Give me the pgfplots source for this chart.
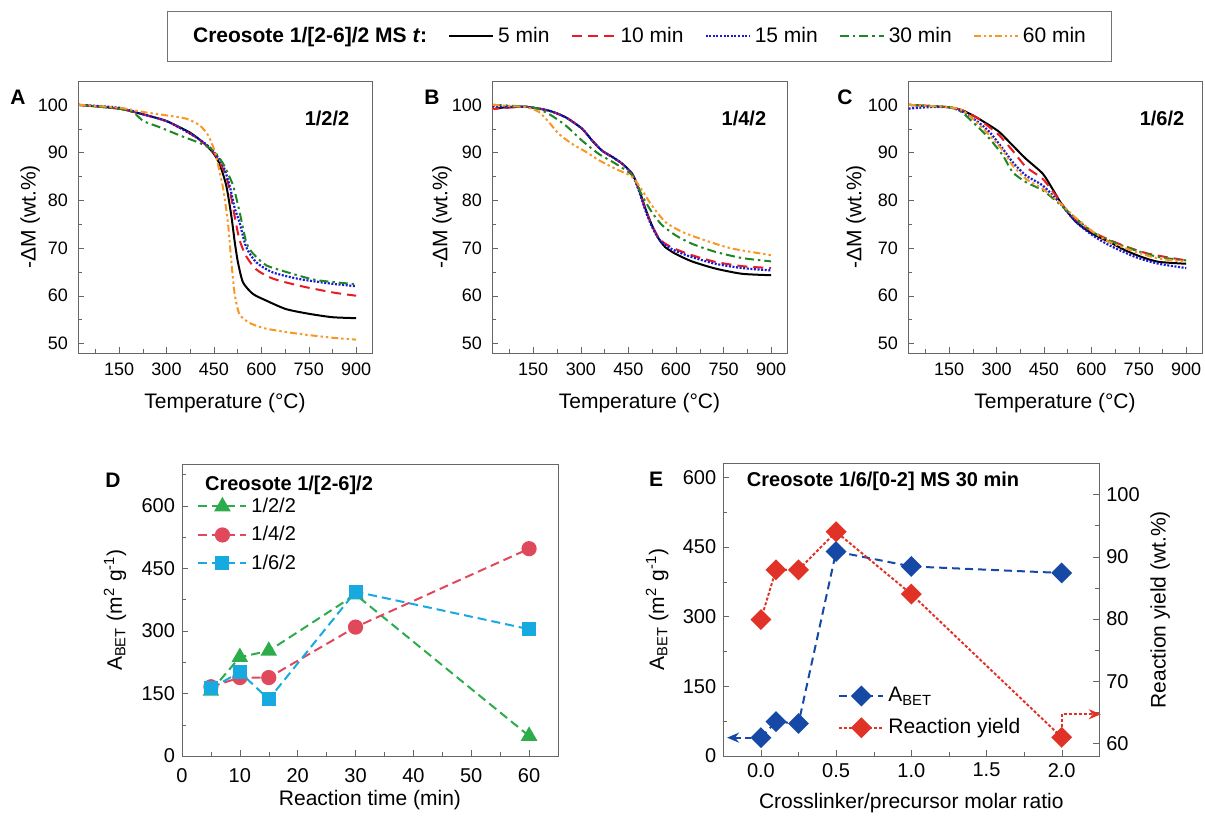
\documentclass[border=0pt]{standalone}
\usepackage{fontspec}
\setmainfont{Liberation Sans}
\setsansfont{Liberation Sans}
\usepackage{pgfplots}
\pgfplotsset{compat=1.18}
\usetikzlibrary{arrows.meta}

\definecolor{tred}{RGB}{230,28,32}
\definecolor{tblue}{RGB}{25,25,215}
\definecolor{tgreen}{RGB}{30,135,35}
\definecolor{torange}{RGB}{250,150,35}
\definecolor{dgreen}{RGB}{45,172,75}
\definecolor{dred}{RGB}{224,72,92}
\definecolor{dcyan}{RGB}{22,170,225}
\definecolor{eblue}{RGB}{22,72,165}
\definecolor{ered}{RGB}{225,50,40}

\newcommand{\tgafont}{\fontsize{9}{10}\selectfont}
\newcommand{\dfont}{\fontsize{10}{11}\selectfont}
\newcommand{\labfont}{\fontsize{10.5}{12}\selectfont}

\pgfplotsset{
  common/.style={
    scale only axis, anchor=north west,
    tick align=inside, tick pos=left,
    major tick length=3pt, minor tick length=2pt,
    axis line style={black!60}, tick style={black!60},
    /pgf/number format/assume math mode=true,
    label style={font=\labfont},
  },
  tga/.style={
    common, width=147pt, height=136pt,
    xmin=20, xmax=950, ymin=48, ymax=105,
    xtick={150,300,...,900}, minor xtick={75,225,...,825},
    ytick={50,60,...,100}, minor ytick={55,65,...,95},
    tick label style={font=\tgafont},
    x tick label style={yshift=-1.3pt},
    y tick label style={xshift=-1.5pt},
    xlabel={Temperature (°C)},
    ylabel={-ΔM (wt.\%)},
    xlabel style={at={(axis description cs:0.5,-0.184)}, anchor=center},
  },
  s5/.style={black, line width=1pt, smooth, tension=0.4, no marks},
  s10/.style={tred, line width=1pt, dash pattern=on 5pt off 3pt, smooth, tension=0.4, no marks},
  s15/.style={tblue, line width=1.1pt, dash pattern=on 1pt off 0.8pt, smooth, tension=0.4, no marks},
  s30/.style={tgreen, line width=1pt, dash pattern=on 4.5pt off 2pt on 1.2pt off 2pt, smooth, tension=0.4, no marks},
  s60/.style={torange, line width=1pt, dash pattern=on 3.5pt off 1.5pt on 1.2pt off 1.5pt on 1.2pt off 1.5pt, smooth, tension=0.4, no marks},
}

\begin{document}
\begin{tikzpicture}
\useasboundingbox (0,0) rectangle (602.5pt,-407.5pt);

% ---------------- Panel A ----------------
\begin{axis}[tga, at={(39pt,-40.5pt)},
  ylabel style={at={(axis description cs:-0.163,0.5)}, anchor=center}]
\addplot[s5] coordinates {(22,100) (150,99.2) (227,98.0) (300,96.6) (374,94.2) (416,92.1) (447,90.0) (468,87.6) (489,83.1) (505,76.8) (516,71.2) (526,67.0) (542,62.8) (573,60.4) (615,59.0) (678,57.2) (752,56.2) (825,55.5) (900,55.3)};
\addplot[s10] coordinates {(22,100) (150,99.2) (227,98.0) (300,96.6) (374,94.0) (416,92.1) (447,90.2) (468,88.0) (489,85.0) (505,80.5) (516,76.5) (531,71.7) (552,68.3) (584,65.5) (636,63.6) (720,62.1) (825,60.7) (900,60.0)};
\addplot[s15] coordinates {(22,100) (150,99.4) (227,98.0) (300,96.6) (374,94.0) (416,92.2) (447,90.4) (479,87.3) (500,83.0) (516,78.3) (531,75.4) (552,70.2) (584,67.0) (636,64.9) (720,63.5) (825,62.5) (900,62.0)};
\addplot[s30] coordinates {(22,100) (150,99.2) (195,98.4) (227,96.6) (279,95.3) (342,93.6) (405,92.0) (447,90.5) (479,87.7) (510,83.2) (531,77.6) (552,71.3) (573,68.9) (615,66.4) (678,65.0) (773,63.3) (900,62.4)};
\addplot[s60] coordinates {(22,100) (150,99.4) (227,98.5) (300,97.8) (363,97.1) (405,95.7) (432,93.6) (453,90.2) (468,86.0) (481,81.8) (495,74.9) (505,67.2) (516,60.2) (531,56.1) (563,54.3) (615,53.1) (720,52.0) (825,51.2) (900,50.8)};
\node[font=\bfseries\fontsize{10}{12}\selectfont] at (rel axis cs:0.847,0.864) {1/2/2};
\end{axis}

% ---------------- Panel B ----------------
\begin{axis}[tga, at={(246pt,-40.5pt)}, width=147.5pt,
  ylabel style={at={(axis description cs:-0.17,0.5)}, anchor=center},
  legend image code/.code={\draw[#1] (0pt,0pt) -- (22pt,0pt);},
  legend style={at={(axis description cs:0.5,1.165)}, anchor=center,
    legend columns=6, draw=black!55, fill=white, font=\labfont,
    inner xsep=11pt, inner ysep=6pt,
    /tikz/every even column/.append style={column sep=8.5pt}}]
\addlegendimage{empty legend}
\addlegendentry{\textbf{Creosote 1/[2-6]/2 MS \textit{t}:}}
\addplot[s5] coordinates {(30,99.2) (63,99.5) (126,99.6) (199,98.8) (252,97.4) (304,95.0) (336,92.5) (367,90.4) (399,89.1) (430,87.7) (462,85.6) (483,82.4) (504,78.2) (524,74.8) (545,72.0) (566,70.2) (598,68.8) (650,67.2) (724,65.7) (808,64.6) (900,64.3)};
\addlegendentry{5 min}
\addplot[s10] coordinates {(22,100) (24,99.2) (50,99.3) (126,99.6) (199,98.8) (252,97.4) (304,95.0) (336,92.5) (367,90.4) (399,89.0) (430,87.7) (462,85.5) (483,82.2) (504,78.0) (524,74.8) (545,72.2) (566,70.9) (598,69.8) (650,68.5) (724,67.1) (808,66.2) (900,65.8)};
\addlegendentry{10 min}
\addplot[s15] coordinates {(22,99.8) (60,99.5) (126,99.6) (199,98.8) (252,97.4) (304,95.0) (336,92.5) (367,90.4) (399,89.1) (430,87.7) (462,85.4) (483,82.0) (504,77.8) (524,74.5) (545,72.0) (566,70.6) (598,69.4) (650,68.1) (724,66.7) (808,65.8) (900,65.3)};
\addlegendentry{15 min}
\addplot[s30] coordinates {(22,100) (147,99.5) (199,98.1) (252,95.7) (304,92.5) (357,89.7) (409,87.7) (462,85.2) (493,81.0) (524,77.5) (556,74.8) (598,72.7) (650,70.9) (724,69.2) (808,67.9) (900,67.2)};
\addlegendentry{30 min}
\addplot[s60] coordinates {(22,100) (126,99.5) (168,98.5) (199,96.4) (231,93.9) (273,91.8) (315,90.2) (357,88.4) (409,86.6) (462,84.9) (493,82.1) (524,78.9) (566,75.5) (619,73.4) (692,71.6) (776,69.9) (900,68.5)};
\addlegendentry{60 min}
\node[font=\bfseries\fontsize{10}{12}\selectfont] at (rel axis cs:0.854,0.864) {1/4/2};
\end{axis}

% ---------------- Panel C ----------------
\begin{axis}[tga, at={(454pt,-40.5pt)},
  ylabel style={at={(axis description cs:-0.177,0.5)}, anchor=center}]
\addplot[s5] coordinates {(22,100) (150,99.5) (194,98.8) (236,97.4) (278,95.7) (309,94.3) (351,91.5) (393,88.7) (446,85.6) (477,82.4) (509,78.9) (551,75.5) (603,73.0) (656,71.3) (708,69.5) (760,68.1) (813,67.1) (900,66.7)};
\addplot[s10] coordinates {(22,100) (150,99.5) (194,98.8) (236,97.4) (278,95.3) (309,93.6) (351,90.4) (393,87.0) (446,84.5) (488,81.0) (530,77.2) (572,74.8) (624,72.7) (698,70.6) (781,68.8) (900,67.4)};
\addplot[s15] coordinates {(22,99.2) (79,99.5) (150,99.5) (194,98.5) (236,96.7) (278,94.3) (320,90.8) (351,88.0) (393,85.2) (446,83.1) (498,79.6) (551,75.5) (603,72.7) (656,70.6) (740,68.1) (813,66.7) (900,65.8)};
\addplot[s30] coordinates {(22,100) (150,99.5) (189,98.5) (236,95.7) (278,92.9) (320,89.4) (351,85.9) (393,83.8) (446,82.1) (498,79.3) (551,76.2) (603,73.4) (656,71.6) (740,69.5) (813,68.1) (900,67.4)};
\addplot[s60] coordinates {(22,100) (150,99.5) (194,98.8) (236,96.4) (278,93.6) (320,90.4) (351,87.3) (393,84.5) (446,82.4) (498,79.6) (551,76.3) (603,73.5) (656,71.3) (740,69.2) (813,67.8) (900,67.1)};
\node[font=\bfseries\fontsize{10}{12}\selectfont] at (rel axis cs:0.864,0.864) {1/6/2};
\end{axis}

% ---------------- Panel D ----------------
\begin{axis}[common, at={(91pt,-232pt)}, width=188pt, height=146pt,
  xmin=0, xmax=65, ymin=0, ymax=700,
  xtick={0,10,...,60}, minor xtick={5,15,...,55},
  ytick={0,150,...,600}, minor ytick={75,225,...,675},
  tick label style={font=\dfont},
  x tick label style={yshift=-2.5pt},
  xlabel={Reaction time (min)},
  ylabel={A\textsubscript{BET} (m\textsuperscript{2} g\textsuperscript{-1})},
  xlabel style={at={(axis description cs:0.5,-0.151)}, anchor=center},
  ylabel style={at={(axis description cs:-0.178,0.5)}, anchor=center},
  legend image code/.code={\draw[mark repeat=2, mark phase=2, #1] plot coordinates {(0pt,0pt) (12pt,0pt) (24pt,0pt)};},
  legend cell align=left,
  legend style={at={(axis description cs:0.04,0.757)}, anchor=west, draw=none, fill=none,
    inner sep=0pt, font=\dfont, row sep=1.5pt}]
\addplot[dgreen, line width=1pt, dash pattern=on 4.5pt off 2.5pt, mark=triangle*, mark size=3.8pt, mark options={solid}]
  coordinates {(5,156) (10,237) (15,252) (30,387) (60,48)};
\addlegendentry{1/2/2}
\addplot[dred, line width=1pt, dash pattern=on 4.5pt off 2.5pt, mark=*, mark size=3.3pt, mark options={solid}]
  coordinates {(5,166) (10,188) (15,188) (30,309) (60,497)};
\addlegendentry{1/4/2}
\addplot[dcyan, line width=1pt, dash pattern=on 4.5pt off 2.5pt, mark=square*, mark size=3pt, mark options={solid}]
  coordinates {(5,162) (10,201) (15,136) (30,394) (60,304)};
\addlegendentry{1/6/2}
\node[anchor=west, font=\bfseries\fontsize{10}{12}\selectfont] at (rel axis cs:0.0426,0.928) {Creosote 1/[2-6]/2};
\end{axis}

% ---------------- Panel E ----------------
\begin{axis}[common, at={(361.65pt,-231.65pt)}, width=188pt, height=146.35pt,
  xmin=-0.25, xmax=2.25, ymin=0, ymax=630, clip=false,
  xtick={0,0.5,1,1.5,2}, minor xtick={0.25,0.75,1.25,1.75},
  xticklabel style={/pgf/number format/.cd, fixed, fixed zerofill, precision=1},
  ytick={0,150,...,600}, minor ytick={75,225,...,525},
  tick label style={font=\dfont},
  xlabel={Crosslinker/precursor molar ratio},
  ylabel={A\textsubscript{BET} (m\textsuperscript{2} g\textsuperscript{-1})},
  xlabel style={at={(axis description cs:0.5,-0.161)}, anchor=center},
  ylabel style={at={(axis description cs:-0.176,0.5)}, anchor=center}]
\addplot[eblue, line width=1pt, dash pattern=on 3pt off 2pt, -{Stealth[length=6pt,width=5pt]}, forget plot]
  coordinates {(0,39.5) (-0.225,39.5)};
\addplot[eblue, line width=1pt, dash pattern=on 4pt off 2.5pt, mark=square*, mark size=3.2pt, mark options={solid, rotate=45}]
  coordinates {(0,39.5) (0.1,74) (0.25,70) (0.5,440) (1.0,408) (2.0,394)};
\node[anchor=west, font=\bfseries\fontsize{10}{12}\selectfont] at (rel axis cs:0.044,0.937) {Creosote 1/6/[0-2] MS 30 min};
\end{axis}
\begin{axis}[common, at={(361.65pt,-231.65pt)}, width=188pt, height=146.35pt,
  xmin=-0.25, xmax=2.25, ymin=58, ymax=105, clip=false,
  axis x line=none, axis y line*=right, ytick pos=right,
  ytick={60,70,...,100}, minor ytick={65,75,85,95},
  tick label style={font=\dfont},
  ylabel={Reaction yield (wt.\%)},
  ylabel style={at={(axis description cs:1.162,0.5)}, anchor=center},
  legend image code/.code={\draw[mark repeat=2, mark phase=2, #1] plot coordinates {(0pt,0pt) (11pt,0pt) (22pt,0pt)};},
  legend cell align=left,
  legend style={at={(axis description cs:0.305,0.150)}, anchor=west, draw=none, fill=none,
    inner sep=0pt, font=\labfont, row sep=3pt}]
\addlegendimage{eblue, line width=1pt, dash pattern=on 4pt off 2.5pt, mark=square*, mark size=3.2pt, mark options={solid, rotate=45}}
\addlegendentry{A\textsubscript{BET}}
\addplot[ered, line width=1pt, dash pattern=on 1.5pt off 1pt, -{Stealth[length=6pt,width=5pt]}, forget plot]
  coordinates {(2,61) (2,64.7) (2.26,64.7)};
\addplot[ered, line width=1pt, dash pattern=on 1.5pt off 1pt, mark=square*, mark size=3.2pt, mark options={solid, rotate=45}]
  coordinates {(0,79.9) (0.1,87.9) (0.25,87.9) (0.5,94.0) (1.0,84.0) (2.0,61.0)};
\addlegendentry{Reaction yield}
\end{axis}

% panel letters
\node[font=\bfseries\fontsize{10.5}{12}\selectfont] at (9pt,-48.5pt) {A};
\node[font=\bfseries\fontsize{10.5}{12}\selectfont] at (216pt,-48.5pt) {B};
\node[font=\bfseries\fontsize{10.5}{12}\selectfont] at (422.5pt,-48.5pt) {C};
\node[font=\bfseries\fontsize{10.5}{12}\selectfont] at (56.5pt,-240pt) {D};
\node[font=\bfseries\fontsize{10.5}{12}\selectfont] at (328pt,-239.5pt) {E};
\end{tikzpicture}
\end{document}
